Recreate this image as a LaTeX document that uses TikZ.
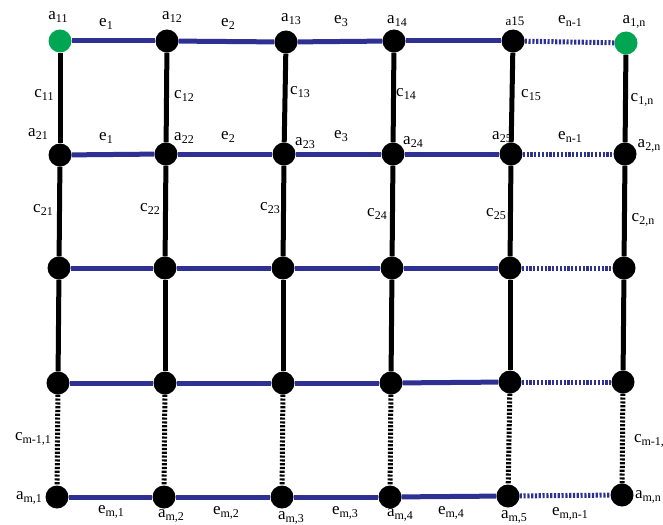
\documentclass[tikz,border=0pt]{standalone}
\usepackage{fontspec}
\setmainfont{Liberation Serif}
\newcommand\sbs[1]{\raisebox{-0.45ex}{\fontsize{12}{12}\selectfont #1}}
\definecolor{edgeblue}{RGB}{46,49,146}
\definecolor{dotgreen}{RGB}{0,166,81}
\begin{document}
\begin{tikzpicture}[x=1pt,y=-1pt,
 vtx/.style={circle,fill=black,minimum size=23pt,inner sep=0pt},
 src/.style={vtx,fill=dotgreen},
 hedge/.style={line width=5pt,draw=edgeblue},
 vedge/.style={line width=5pt,draw=black},
 hdots/.style={hedge,dash pattern=on 2.2pt off 1.6pt},
 vdots/.style={vedge,dash pattern=on 2.2pt off 1.6pt},
 lbl/.style={inner sep=0pt,font=\fontsize{17}{20}\selectfont}]
\useasboundingbox (0,0) rectangle (663,524);
% vertices
\node[src] (n11) at (60,41) {};
\node[vtx] (n12) at (167,41) {};
\node[vtx] (n13) at (286,42) {};
\node[vtx] (n14) at (394,41) {};
\node[vtx] (n15) at (513,41) {};
\node[src] (n16) at (626,43) {};
\node[vtx] (n21) at (60,155) {};
\node[vtx] (n22) at (166,154) {};
\node[vtx] (n23) at (284,154) {};
\node[vtx] (n24) at (393,154) {};
\node[vtx] (n25) at (511,154) {};
\node[vtx] (n26) at (625,154) {};
\node[vtx] (n31) at (59,268) {};
\node[vtx] (n32) at (165,268) {};
\node[vtx] (n33) at (283,268) {};
\node[vtx] (n34) at (392,268) {};
\node[vtx] (n35) at (510,268) {};
\node[vtx] (n36) at (624,268) {};
\node[vtx] (n41) at (58,383) {};
\node[vtx] (n42) at (165,383) {};
\node[vtx] (n43) at (283,383) {};
\node[vtx] (n44) at (391,383) {};
\node[vtx] (n45) at (510,382) {};
\node[vtx] (n46) at (623,382) {};
\node[vtx] (n51) at (57,497) {};
\node[vtx] (n52) at (164,497) {};
\node[vtx] (n53) at (282,497) {};
\node[vtx] (n54) at (390,497) {};
\node[vtx] (n55) at (508,496) {};
\node[vtx] (n56) at (622,495) {};
% edges
\foreach \r in {1,...,5}{
  \foreach \a/\b in {1/2,2/3,3/4,4/5}{
    \draw[hedge] (n\r\a) -- (n\r\b);
  }
  \draw[hdots] (n\r5) -- (n\r6);
}
\foreach \c in {1,...,6}{
  \foreach \a/\b in {1/2,2/3,3/4}{
    \draw[vedge] (n\a\c) -- (n\b\c);
  }
  \draw[vdots] (n4\c) -- (n5\c);
}
% labels row 1
\node[lbl] (la11) at (58,17) {a\sbs{11}};
\node[lbl] (le11) at (106,24) {e\sbs{1}};
\node[lbl] (la12) at (172,17) {a\sbs{12}};
\node[lbl] (le12) at (228,24) {e\sbs{2}};
\node[lbl] (la13) at (291,19) {a\sbs{13}};
\node[lbl] (le13) at (341,21) {e\sbs{3}};
\node[lbl] (la14) at (397,21) {a\sbs{14}};
\node[lbl,font=\fontsize{13}{15}\selectfont] (la15) at (515,21) {a15};
\node[lbl] (le15) at (570,21) {e\sbs{n-1}};
\node[lbl] (la16) at (634,22) {a\sbs{1,n}};
% vertical labels 1-2
\node[lbl] (lc11) at (44,95) {c\sbs{11}};
\node[lbl] (lc12) at (184,96) {c\sbs{12}};
\node[lbl] (lc13) at (300,92) {c\sbs{13}};
\node[lbl] (lc14) at (406,94) {c\sbs{14}};
\node[lbl] (lc15) at (531,95) {c\sbs{15}};
\node[lbl] (lc16) at (642,100) {c\sbs{1,n}};
% labels row 2
\node[lbl] (la21) at (38,134) {a\sbs{21}};
\node[lbl] (le21) at (106,138) {e\sbs{1}};
\node[lbl] (la22) at (184,138) {a\sbs{22}};
\node[lbl] (le22) at (228,137) {e\sbs{2}};
\node[lbl] (la23) at (305,143) {a\sbs{23}};
\node[lbl] (le23) at (341,136) {e\sbs{3}};
\node[lbl] (la24) at (413,142) {a\sbs{24}};
\node[lbl] (la25) at (502,137) {a\sbs{25}};
\node[lbl] (le25) at (570,137) {e\sbs{n-1}};
\node[lbl] (la26) at (649,146) {a\sbs{2,n}};
% vertical labels 2-3
\node[lbl] (lc21) at (43,210) {c\sbs{21}};
\node[lbl] (lc22) at (150,209) {c\sbs{22}};
\node[lbl] (lc23) at (270,208) {c\sbs{23}};
\node[lbl] (lc24) at (377,214) {c\sbs{24}};
\node[lbl] (lc25) at (496,214) {c\sbs{25}};
\node[lbl] (lc26) at (643,220) {c\sbs{2,n}};
% vertical labels 4-5
\node[lbl] (lc41) at (33,439) {c\sbs{m-1,1}};
\node[lbl] (lc46) at (652,441) {c\sbs{m-1,n}};
% labels row m
\node[lbl] (la51) at (29,498) {a\sbs{m,1}};
\node[lbl] (le51) at (111,512) {e\sbs{m,1}};
\node[lbl] (la52) at (171,516) {a\sbs{m,2}};
\node[lbl] (le52) at (226,513) {e\sbs{m,2}};
\node[lbl] (la53) at (291,518) {a\sbs{m,3}};
\node[lbl] (le53) at (345,513) {e\sbs{m,3}};
\node[lbl] (la54) at (400,515) {a\sbs{m,4}};
\node[lbl] (le54) at (451,513) {e\sbs{m,4}};
\node[lbl] (la55) at (514,517) {a\sbs{m,5}};
\node[lbl] (le55) at (570,514) {e\sbs{m,n-1}};
\node[lbl] (la56) at (648,497) {a\sbs{m,n}};
\end{tikzpicture}
\end{document}
